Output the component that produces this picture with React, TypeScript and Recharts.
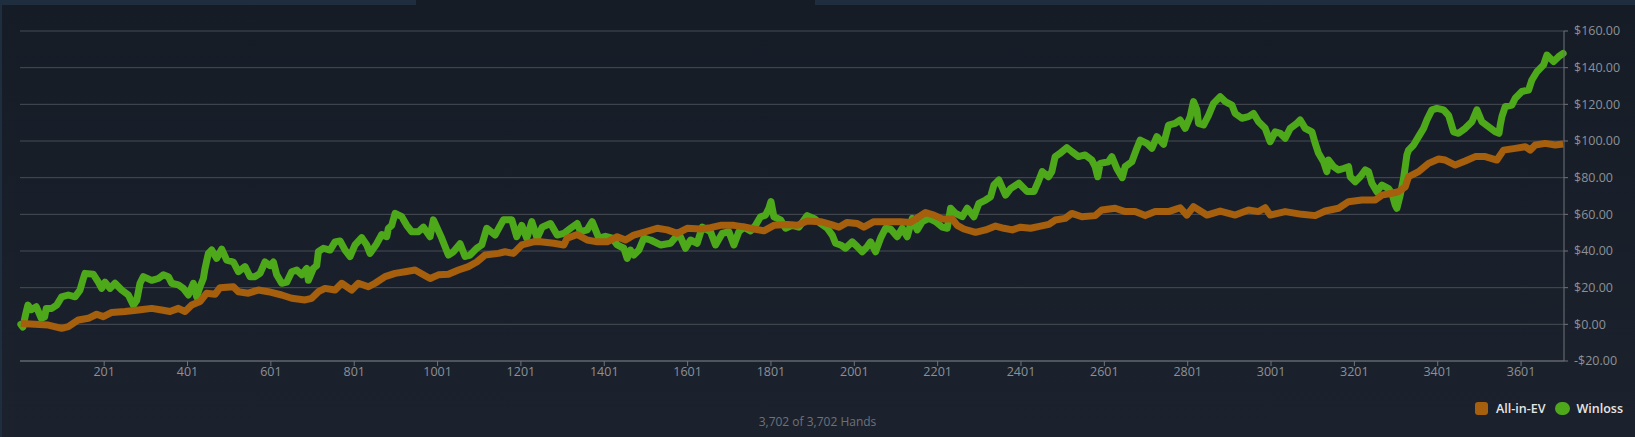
import React from 'react';
import { LineChart, Line, XAxis, YAxis, CartesianGrid } from 'recharts';

// hands at which each reading was taken, and the cumulative result in dollars
const winHands = [
  1, 6, 12, 18, 26, 38, 50, 58, 62, 75, 87, 99, 115, 131, 143, 151, 155, 175, 187, 195,
  203, 215, 227, 243, 259, 271, 279, 287, 295, 315, 331, 343, 355, 363, 379, 391, 403, 415, 423, 431,
  439, 443, 451, 459, 471, 483, 495, 511, 523, 539, 551, 563, 575, 587, 599, 607, 615, 627, 639, 651,
  663, 675, 687, 691, 703, 711, 715, 727, 743, 755, 767, 779, 791, 803, 819, 831, 839, 855, 867, 879,
  883, 891, 899, 915, 927, 939, 955, 967, 983, 991, 999, 1011, 1027, 1039, 1055, 1067, 1079, 1095, 1107, 1119,
  1139, 1159, 1179, 1191, 1203, 1215, 1227, 1240, 1252, 1272, 1288, 1304, 1320, 1336, 1344, 1360, 1372, 1388, 1404, 1420,
  1432, 1448, 1456, 1464, 1472, 1484, 1496, 1512, 1536, 1560, 1580, 1596, 1608, 1624, 1636, 1656, 1668, 1684, 1700, 1712,
  1724, 1736, 1752, 1764, 1776, 1788, 1796, 1801, 1808, 1824, 1836, 1852, 1868, 1888, 1904, 1920, 1936, 1948, 1956, 1968,
  1980, 1996, 2008, 2020, 2032, 2040, 2052, 2064, 2076, 2088, 2104, 2116, 2128, 2140, 2152, 2164, 2180, 2196, 2212, 2224,
  2232, 2244, 2260, 2272, 2288, 2300, 2316, 2328, 2336, 2348, 2364, 2376, 2396, 2416, 2432, 2444, 2452, 2467, 2475, 2483,
  2495, 2511, 2523, 2539, 2555, 2571, 2579, 2585, 2591, 2611, 2619, 2631, 2644, 2651, 2667, 2679, 2687, 2703, 2715, 2727,
  2743, 2755, 2771, 2783, 2795, 2807, 2815, 2823, 2827, 2839, 2851, 2863, 2879, 2891, 2907, 2915, 2931, 2947, 2959, 2971,
  2987, 2999, 3011, 3023, 3035, 3047, 3063, 3071, 3083, 3099, 3107, 3115, 3127, 3135, 3139, 3151, 3163, 3175, 3187, 3191,
  3203, 3215, 3227, 3235, 3243, 3255, 3267, 3283, 3291, 3299, 3303, 3311, 3319, 3327, 3331, 3343, 3355, 3367, 3375, 3387,
  3399, 3415, 3427, 3439, 3451, 3467, 3483, 3495, 3507, 3523, 3539, 3548, 3551, 3555, 3563, 3579, 3587, 3603, 3619, 3627,
  3639, 3655, 3663, 3679, 3691, 3702,
];
const winValues = [
  0, -1.5, 5, 10.5, 8, 9.6, 3.3, 4, 8.7, 8.7, 10.5, 15, 16, 15, 18.7, 25, 27.8, 27.3, 23, 19.6,
  23, 19.6, 22.4, 18.7, 16, 10.5, 13, 22.4, 26, 24, 25, 27, 26, 22.4, 21.5, 19.6, 16, 22.4, 15, 20.5,
  25, 30.5, 38.7, 40.5, 36, 41, 35, 34, 28.7, 31.5, 26, 26, 27.8, 34, 32, 34, 27, 22.4, 23, 28.7,
  29.6, 27, 30.5, 24, 30.5, 32, 39.6, 41.5, 40.5, 45, 45.5, 40.5, 37, 43.3, 47.3, 43.3, 38.7, 44, 49, 47.8,
  52.4, 54, 60.5, 58.7, 54, 50.5, 50.5, 53, 47.8, 57, 53, 47, 37.8, 39.6, 44, 37, 37.8, 41.5, 43.3, 52.4,
  48.7, 57, 57, 47.8, 54, 47, 56, 47, 53, 55, 48.7, 49.6, 52.4, 55, 50.5, 51.5, 56, 47, 48, 47,
  43.3, 41.5, 36, 40.5, 37.8, 40.5, 47, 46, 43.3, 44.2, 49.6, 41.5, 46, 44.2, 53, 50.5, 43.3, 49.6, 50.5, 43.3,
  50.5, 53, 51, 54, 58.7, 59.6, 63.3, 67, 58.7, 57, 52.4, 54, 53, 59.3, 57.8, 55, 52.4, 48.7, 44.2, 43.3,
  41.5, 45, 42.4, 39.6, 42.4, 45, 39.6, 47, 52.4, 52, 47.8, 52.4, 47.8, 57.8, 51.5, 56, 57.8, 56, 53, 52.4,
  63.3, 60.5, 58.7, 63.3, 58.7, 66, 67.8, 69.6, 76, 78.7, 70.5, 74, 77, 72.4, 72.4, 78.7, 83.3, 80.5, 83.3, 91.5,
  93.3, 96.4, 94.2, 91.5, 92.4, 89.6, 86, 80.5, 87.8, 88.7, 91.5, 85, 80, 86, 88.7, 96, 100.5, 98.7, 96, 102.4,
  98.2, 108.7, 109.6, 111.5, 106.9, 113.3, 121.5, 117, 109.6, 108.7, 114, 120.5, 124.2, 121.5, 119.6, 115, 112.4, 113.3, 115, 110.5,
  106.9, 99.6, 105, 104.2, 101.5, 106.9, 109.6, 111.5, 106.9, 105, 98.7, 93.3, 88.7, 83.3, 89.6, 86, 84.2, 85, 86, 80.5,
  77.8, 80.5, 84.2, 83.3, 77, 72.4, 76, 74, 71.5, 65, 63.3, 70.5, 79.6, 92.4, 95, 97.8, 102.4, 106.9, 111.5, 117,
  117.8, 117, 114, 105, 104.2, 106.9, 110.5, 117, 110.5, 107.8, 105, 104.2, 108.7, 113.3, 118.7, 119.6, 123.3, 127, 127.8, 133.3,
  137.8, 141.5, 146.9, 143.3, 146, 147.8,
];

const evHands = [
  1, 35, 67, 99, 115, 139, 163, 183, 199, 219, 251, 283, 315, 339, 359, 379, 395, 411, 431, 447,
  467, 479, 511, 523, 547, 571, 595, 627, 651, 683, 699, 715, 731, 755, 771, 795, 811, 835, 851, 875,
  899, 923, 947, 967, 983, 1003, 1027, 1051, 1075, 1095, 1115, 1147, 1163, 1183, 1203, 1231, 1248, 1280, 1304, 1312,
  1336, 1360, 1384, 1408, 1432, 1452, 1472, 1500, 1528, 1552, 1576, 1600, 1632, 1656, 1680, 1712, 1740, 1760, 1784, 1808,
  1840, 1864, 1888, 1920, 1944, 1964, 1984, 2008, 2024, 2048, 2080, 2112, 2136, 2152, 2172, 2192, 2212, 2236, 2248, 2264,
  2292, 2316, 2340, 2360, 2380, 2400, 2424, 2448, 2468, 2483, 2507, 2523, 2547, 2579, 2595, 2627, 2651, 2675, 2699, 2723,
  2755, 2783, 2799, 2815, 2847, 2879, 2915, 2947, 2971, 2987, 2999, 3035, 3075, 3107, 3131, 3163, 3187, 3219, 3251, 3267,
  3291, 3307, 3323, 3331, 3355, 3379, 3403, 3419, 3443, 3467, 3491, 3515, 3543, 3559, 3587, 3611, 3623, 3635, 3659, 3683,
  3702,
];
const evValues = [
  0.5, 0, -0.4, -2.2, -1.3, 2.4, 3.3, 5.5, 4.2, 6.5, 7, 7.8, 8.7, 7.8, 7, 8.7, 7, 10.5, 12.4, 17,
  16.4, 20, 20.5, 17.8, 17, 18.7, 17.8, 16, 14.2, 13.3, 14.2, 17.8, 19.6, 18.7, 22.4, 18.7, 22.4, 20.5, 22.4, 26,
  27.8, 28.7, 29.6, 27, 25, 27, 27.3, 29.6, 31.5, 34, 37.8, 38.7, 39.6, 38.7, 43.3, 45, 45, 44.2, 43.3, 47,
  49, 46, 45, 45, 47.8, 46, 48.7, 50.5, 52.4, 51.5, 49.6, 52.4, 52, 52.7, 54, 54, 53, 52, 51, 54,
  54.5, 54, 56.4, 56, 54.5, 53, 55.6, 55, 53, 56, 56, 56, 55.6, 58, 61, 59.6, 57.5, 57.5, 54, 52,
  50.2, 51.5, 53.6, 52.4, 51.5, 53, 52.4, 53.6, 54.5, 56.9, 57.8, 60.5, 58.7, 59.3, 62.4, 63.3, 61.5, 61.5, 59.3, 61.5,
  61.5, 63.6, 59.6, 64.2, 59.6, 61.8, 59.6, 62.4, 61.5, 63.6, 59.6, 61.5, 60, 59.3, 61.8, 63.3, 66.9, 67.8, 67.8, 70.5,
  71.5, 72.4, 75, 80.5, 83.3, 87.8, 90.2, 89.6, 86.9, 89.1, 91.5, 91.5, 89.6, 95, 96, 96.9, 95, 97.8, 98.7, 97.8,
  98.4,
];

const handTicks = [201, 401, 601, 801, 1001, 1201, 1401, 1601, 1801, 2001, 2201, 2401, 2601, 2801, 3001, 3201, 3401, 3601];
const dollarTicks = [-20, 0, 20, 40, 60, 80, 100, 120, 140, 160];
const totalHands = '3,702 of 3,702 Hands';

const winData = winHands.map((hand, i) => ({ hand, value: winValues[i] }));
const evData = evHands.map((hand, i) => ({ hand, value: evValues[i] }));

const WIN_COLOR = '#4ea91a';
const EV_COLOR = '#a65f0c';
const FONT = '"Open Sans", "Noto Sans", sans-serif';

const money = (v: number) => (v < 0 ? `-$${Math.abs(v).toFixed(2)}` : `$${v.toFixed(2)}`);

export default function App() {
  return (
    <div
      style={{
        position: 'absolute',
        left: 0,
        top: 0,
        width: 1635,
        height: 437,
        background: 'linear-gradient(#161c26, #1c222d)',
        fontFamily: FONT,
        overflow: 'hidden',
      }}
    >
      {/* tab strip and left edge */}
      <div style={{ position: 'absolute', left: 0, top: 0, width: 416, height: 5, background: '#1f2e3e' }} />
      <div style={{ position: 'absolute', left: 815, top: 0, width: 820, height: 5, background: '#1f2e3e' }} />
      <div style={{ position: 'absolute', left: 0, top: 0, width: 2, height: 437, background: '#1f2e3e' }} />

      <LineChart width={1635} height={437} margin={{ top: 31, right: 0, bottom: 56, left: 20 }}>
        <CartesianGrid horizontal vertical={false} stroke="#474c55" />
        <XAxis
          dataKey="hand"
          type="number"
          domain={[-1, 3704]}
          ticks={handTicks}
          allowDuplicatedCategory={false}
          height={20}
          tickSize={5}
          tickMargin={1}
          stroke="#6e737b"
          tick={{ fill: '#8c9097', fontSize: 12.5, fontFamily: FONT }}
        />
        <YAxis
          orientation="right"
          type="number"
          domain={[-20, 160]}
          ticks={dollarTicks}
          tickFormatter={money}
          width={71}
          tickSize={4}
          tickMargin={6}
          stroke="#6e737b"
          tick={{ fill: '#8c9097', fontSize: 12.5, fontFamily: FONT }}
        />
        <Line
          data={winData}
          dataKey="value"
          name="Winloss"
          stroke={WIN_COLOR}
          strokeWidth={7}
          strokeLinejoin="round"
          strokeLinecap="round"
          dot={false}
          isAnimationActive={false}
        />
        <Line
          data={evData}
          dataKey="value"
          name="All-in-EV"
          stroke={EV_COLOR}
          strokeWidth={7}
          strokeLinejoin="round"
          dot={false}
          isAnimationActive={false}
        />
      </LineChart>

      <div
        style={{
          position: 'absolute',
          left: 0,
          width: 1635,
          top: 413,
          textAlign: 'center',
          color: '#6c727a',
          fontSize: 12,
        }}
      >
        {totalHands}
      </div>

      <div
        style={{
          position: 'absolute',
          right: 12,
          top: 400,
          display: 'flex',
          alignItems: 'center',
          color: '#e6e6e6',
          fontSize: 12.5,
          fontWeight: 600,
        }}
      >
        <span style={{ width: 13, height: 13, borderRadius: 3, background: EV_COLOR, display: 'inline-block', marginRight: 8 }} />
        <span style={{ marginRight: 10 }}>All-in-EV</span>
        <span style={{ width: 15, height: 13, borderRadius: 7, background: WIN_COLOR, display: 'inline-block', marginRight: 6 }} />
        <span>Winloss</span>
      </div>
    </div>
  );
}
